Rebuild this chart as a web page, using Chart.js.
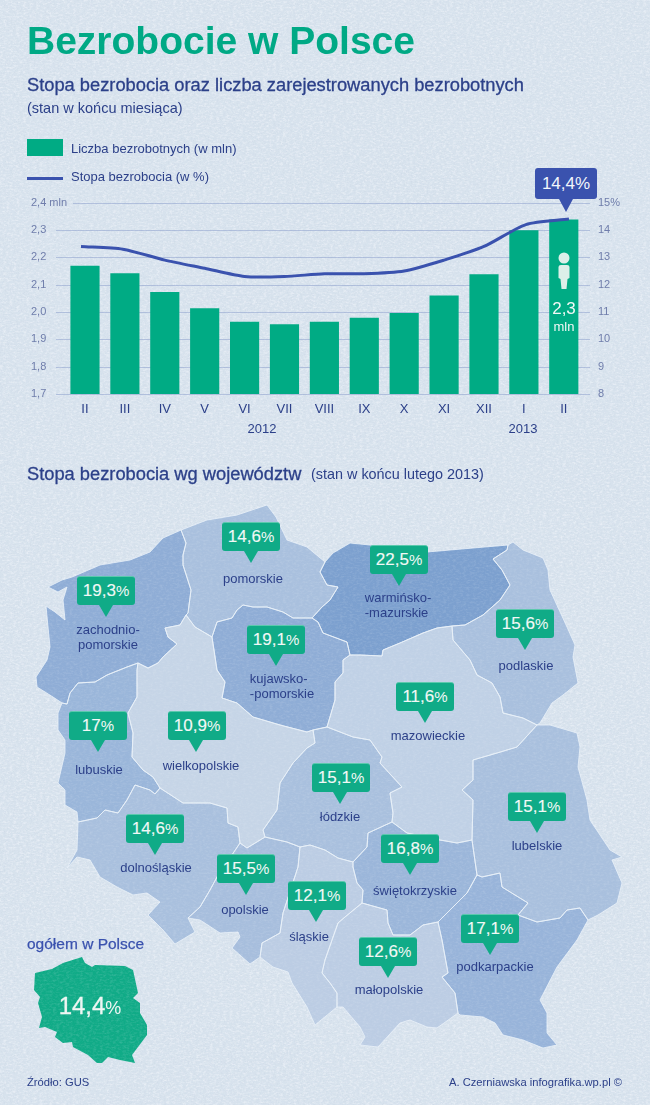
<!DOCTYPE html>
<html lang="pl">
<head>
<meta charset="utf-8">
<title>Bezrobocie w Polsce</title>
<script src="https://cdn.jsdelivr.net/npm/chart.js@4"></script>
<style>
  html, body { margin: 0; padding: 0; }
  body {
    position: relative; width: 650px; height: 1105px; overflow: hidden;
    background-color: #d7e2ed;
    font-family: "Liberation Sans", Arial, sans-serif; color: #2c4089;
  }
  .paper {
    position: absolute; left: 0; top: 0; width: 650px; height: 1105px; pointer-events: none;
    background-image: url("data:image/svg+xml,%3Csvg xmlns='http://www.w3.org/2000/svg' width='650' height='1105'%3E%3Cfilter id='a' x='0' y='0' width='100%25' height='100%25'%3E%3CfeTurbulence type='fractalNoise' baseFrequency='.3 .55' numOctaves='4' seed='4'/%3E%3CfeColorMatrix values='0 0 0 0 .95 0 0 0 0 .97 0 0 0 0 1 0 0 0 2.2 -.9'/%3E%3C/filter%3E%3Cfilter id='b' x='0' y='0' width='100%25' height='100%25'%3E%3CfeTurbulence type='fractalNoise' baseFrequency='.7' numOctaves='2' seed='9'/%3E%3CfeColorMatrix values='0 0 0 0 .55 0 0 0 0 .63 0 0 0 0 .74 0 0 0 1.6 -.85'/%3E%3C/filter%3E%3Crect width='650' height='1105' filter='url(%23a)'/%3E%3Crect width='650' height='1105' filter='url(%23b)'/%3E%3C/svg%3E");
  }
  #paperBack { opacity: .4; }
  #paperOver { opacity: .14; }
  canvas { position: absolute; left: 0; }
  #trend { top: 190px; }
  #map { top: 490px; }
  .t { position: absolute; white-space: nowrap; line-height: 1; }
  .mid { transform: translate(-50%, -50%); text-align: center; }
  .bubble {
    position: absolute; width: 58px; height: 29px; box-sizing: border-box;
    background: #10ab87; border-radius: 3px; border-top: 1px solid #5cc9ad;
    color: #f2f8f6; font-size: 17px; line-height: 28px; text-align: center;
    -webkit-text-stroke: .15px #f2f8f6;
  }
  .bubble small { font-size: 15px; -webkit-text-stroke: 0; }
  .bubble::after {
    content: ""; position: absolute; left: var(--tip); top: 28px; margin-left: -7px;
    border-left: 7px solid transparent; border-right: 7px solid transparent; border-top: 12px solid #10ab87;
  }
  .label { font-size: 13px; line-height: 15px; color: #2c4089; }
</style>
</head>
<body>

<div class="paper" id="paperBack"></div>
<canvas id="map" width="650" height="600"></canvas>
<div class="paper" id="paperOver"></div>
<canvas id="trend" width="650" height="240"></canvas>

<div class="t" style="left:27px;top:21px;font-size:39px;font-weight:bold;color:#00a985">Bezrobocie w Polsce</div>
<div class="t" style="left:27px;top:76px;font-size:18.3px;-webkit-text-stroke:.3px #2c4089">Stopa bezrobocia oraz liczba zarejestrowanych bezrobotnych</div>
<div class="t" style="left:27px;top:101px;font-size:14.5px">(stan w końcu miesiąca)</div>

<div style="position:absolute;left:27px;top:139px;width:36px;height:17px;background:#00ab84"></div>
<div class="t" style="left:71px;top:142px;font-size:13px">Liczba bezrobotnych (w mln)</div>
<div style="position:absolute;left:27px;top:177px;width:36px;height:3px;background:#3a52ae"></div>
<div class="t" style="left:71px;top:170px;font-size:13px">Stopa bezrobocia (w %)</div>

<div class="t mid" style="left:262px;top:428px;font-size:13px">2012</div>
<div class="t mid" style="left:523px;top:428px;font-size:13px">2013</div>

<div style="position:absolute;left:535px;top:168px;width:62px;height:31px;background:#3a52ae;border-radius:3px;color:#f2f6fb;font-size:17px;line-height:31px;text-align:center">14,4%</div>
<div style="position:absolute;left:559px;top:199px;border-left:7px solid transparent;border-right:7px solid transparent;border-top:13px solid #3a52ae"></div>

<svg style="position:absolute;left:556px;top:251px" width="16" height="40" viewBox="0 0 16 40">
  <circle cx="8" cy="7" r="5.5" fill="#dcefe9"/>
  <path d="M2.5 16 Q2.5 14 5 14 H11 Q13.5 14 13.5 16 V27 L11.5 28 L10.5 38 H5.5 L4.5 28 L2.5 27 Z" fill="#dcefe9"/>
</svg>
<div class="t mid" style="left:564px;top:308px;font-size:17px;color:#f2f8f6">2,3</div>
<div class="t mid" style="left:564px;top:326px;font-size:13px;color:#f2f8f6">mln</div>

<div class="t" style="left:27px;top:465px;font-size:18.3px;-webkit-text-stroke:.3px #2c4089">Stopa bezrobocia wg województw</div>
<div class="t" style="left:311px;top:467px;font-size:14.4px">(stan w końcu lutego 2013)</div>

<div id="regions"></div>

<div class="t" style="left:27px;top:936px;font-size:15.5px;color:#3a52ae;-webkit-text-stroke:.25px #3a52ae">ogółem w Polsce</div>
<div class="t mid" style="left:90px;top:1006px;font-size:24px;color:#eef6f3;-webkit-text-stroke:.3px #eef6f3">14,4<span style="font-size:18px;-webkit-text-stroke:0">%</span></div>

<div class="t" style="left:27px;top:1077px;font-size:11.2px">Źródło: GUS</div>
<div class="t" style="right:28px;top:1077px;font-size:11.2px">A. Czerniawska infografika.wp.pl ©</div>

<script>
// wykres: miesiace II 2012 - II 2013
const months = ['II', 'III', 'IV', 'V', 'VI', 'VII', 'VIII', 'IX', 'X', 'XI', 'XII', 'I', 'II'];
const unemployed = [2.168, 2.141, 2.072, 2.013, 1.963, 1.954, 1.963, 1.978, 1.995, 2.059, 2.137, 2.298, 2.337];
const rate = [13.4, 13.3, 12.9, 12.6, 12.3, 12.3, 12.4, 12.4, 12.5, 12.9, 13.4, 14.2, 14.4];
const rateAt = [-0.1, 0.95, 2, 3, 4, 5, 6, 7, 8, 9, 10, 11.05, 12.13];

// wojewodztwa
const regionNames = ['pomorskie', 'zachodnio-<br>pomorskie', 'warmińsko-<br>-mazurskie', 'podlaskie', 'kujawsko-<br>-pomorskie', 'lubuskie', 'wielkopolskie', 'mazowieckie', 'łódzkie', 'lubelskie', 'dolnośląskie', 'opolskie', 'śląskie', 'świętokrzyskie', 'małopolskie', 'podkarpackie'];
const regionRates = ['14,6', '19,3', '22,5', '15,6', '19,1', '17', '10,9', '11,6', '15,1', '15,1', '14,6', '15,5', '12,1', '16,8', '12,6', '17,1'];

// kontury, w pikselach strony
const pomorskie = [[181,530],[207,520],[237,515],[267,505],[276,517],[287,540],[307,547],[325,562],[320,572],[327,585],[338,587],[330,600],[322,607],[312,618],[293,618],[283,612],[267,607],[253,607],[243,605],[237,610],[232,618],[217,622],[212,637],[195,627],[186,615],[188,613],[191,590],[183,565],[183,555],[186,543]];
const zachodnio = [[181,530],[163,538],[150,552],[130,560],[100,565],[72,577],[62,580],[48,587],[58,592],[67,587],[63,600],[65,620],[55,612],[46,606],[48,627],[50,647],[47,660],[36,677],[37,687],[53,697],[62,703],[67,704],[70,693],[78,683],[95,682],[107,675],[127,667],[138,663],[148,668],[158,663],[163,657],[177,644],[168,637],[165,628],[180,625],[186,615],[188,613],[191,590],[183,565],[183,555],[186,543]];
const warminsko = [[325,562],[333,553],[350,543],[370,545],[427,552],[473,548],[508,545],[507,550],[493,559],[502,570],[510,585],[500,600],[483,615],[465,625],[452,626],[437,628],[423,633],[400,643],[383,650],[382,656],[360,655],[350,655],[347,642],[323,633],[318,622],[312,618],[322,607],[330,600],[338,587],[327,585],[320,572]];
const podlaskie = [[508,545],[513,542],[523,550],[543,558],[548,570],[550,590],[567,627],[575,645],[573,657],[578,683],[563,695],[552,703],[540,723],[537,725],[523,718],[503,713],[500,697],[492,683],[477,675],[470,660],[453,640],[452,626],[465,625],[483,615],[500,600],[510,585],[502,570],[493,559],[507,550]];
const kujawsko = [[212,637],[217,622],[232,618],[237,610],[243,605],[253,607],[267,607],[283,612],[293,618],[312,618],[318,622],[323,633],[347,642],[350,655],[343,660],[343,673],[335,682],[335,700],[327,727],[313,730],[307,732],[280,725],[253,717],[237,703],[222,698],[225,682],[217,670]];
const lubuskie = [[138,663],[137,670],[137,697],[128,713],[133,733],[132,757],[143,770],[153,777],[160,788],[155,794],[150,790],[135,785],[127,800],[118,813],[105,810],[97,818],[78,822],[77,812],[65,805],[65,790],[58,783],[65,753],[65,740],[58,730],[58,713],[62,703],[67,704],[70,693],[78,683],[95,682],[107,675],[127,667]];
const wielkopolskie = [[186,615],[195,627],[212,637],[217,670],[225,682],[222,698],[237,703],[253,717],[280,725],[307,732],[313,730],[315,743],[307,748],[293,763],[280,783],[277,810],[263,830],[265,837],[247,848],[240,843],[238,827],[228,823],[227,808],[210,803],[183,803],[160,788],[153,777],[143,770],[132,757],[133,733],[128,713],[137,697],[137,670],[138,663],[148,668],[158,663],[163,657],[177,644],[168,637],[165,628],[180,625]];
const mazowieckie = [[350,655],[360,655],[382,656],[383,650],[400,643],[423,633],[437,628],[452,626],[453,640],[470,660],[477,675],[492,683],[500,697],[503,713],[523,718],[537,725],[517,747],[497,753],[473,760],[473,780],[462,790],[473,800],[472,840],[457,843],[440,840],[407,833],[392,822],[393,813],[390,793],[402,787],[380,763],[382,757],[370,740],[353,737],[327,727],[335,700],[335,682],[343,673],[343,660]];
const lodzkie = [[313,730],[327,727],[353,737],[370,740],[382,757],[380,763],[402,787],[390,793],[393,813],[392,822],[368,833],[367,847],[353,862],[338,858],[325,850],[310,845],[300,847],[287,842],[265,837],[263,830],[277,810],[280,783],[293,763],[307,748],[315,743]];
const lubelskie = [[473,760],[497,753],[517,747],[537,725],[550,725],[577,733],[580,747],[578,767],[587,800],[590,820],[610,850],[622,857],[612,860],[622,883],[617,903],[598,915],[588,920],[580,908],[567,910],[560,918],[537,922],[518,915],[528,903],[502,887],[500,873],[482,877],[477,875],[472,840],[473,800],[462,790],[473,780]];
const dolnoslaskie = [[160,788],[155,794],[150,790],[135,785],[127,800],[118,813],[105,810],[97,818],[78,822],[77,850],[67,868],[77,857],[90,860],[100,877],[117,887],[133,895],[147,893],[160,902],[148,915],[163,930],[175,944],[195,932],[188,918],[200,907],[210,890],[217,877],[240,843],[238,827],[228,823],[227,808],[210,803],[183,803]];
const opolskie = [[240,843],[247,848],[265,837],[287,842],[300,847],[298,867],[283,913],[280,933],[262,943],[260,957],[250,964],[232,948],[240,937],[238,932],[220,933],[200,920],[188,918],[200,907],[210,890],[217,877]];
const slaskie = [[300,847],[310,845],[325,850],[338,858],[353,862],[353,867],[357,883],[363,890],[362,903],[345,917],[338,923],[325,960],[322,973],[330,983],[337,993],[337,1007],[315,1025],[307,1007],[292,983],[288,972],[273,967],[260,957],[262,943],[280,933],[283,913],[298,867]];
const swietokrzyskie = [[392,822],[407,833],[440,840],[457,843],[472,840],[477,875],[467,893],[443,917],[438,922],[423,925],[410,935],[393,935],[388,923],[387,910],[362,903],[363,890],[357,883],[353,867],[353,862],[367,847],[368,833]];
const malopolskie = [[362,903],[387,910],[388,923],[393,935],[410,935],[423,925],[438,922],[442,940],[448,973],[442,977],[455,993],[458,1013],[437,1028],[427,1027],[410,1020],[400,1023],[378,1047],[360,1045],[365,1037],[360,1027],[343,1007],[337,1007],[337,993],[330,983],[322,973],[325,960],[338,923],[345,917]];
const podkarpackie = [[438,922],[443,917],[467,893],[477,875],[482,877],[500,873],[502,887],[528,903],[518,915],[537,922],[560,918],[567,910],[580,908],[588,920],[577,940],[557,967],[540,1000],[547,1013],[547,1033],[557,1045],[543,1048],[523,1040],[503,1035],[495,1023],[483,1017],[460,1015],[458,1013],[455,993],[442,977],[448,973],[442,940]];
const polskaMini = [[35,973],[52,969],[63,963],[82,957],[85,963],[92,967],[95,965],[125,966],[133,970],[138,993],[133,998],[140,1003],[140,1013],[147,1025],[147,1035],[132,1055],[135,1063],[120,1060],[108,1057],[102,1063],[97,1063],[88,1055],[73,1047],[72,1042],[63,1043],[55,1037],[57,1032],[45,1027],[39,1028],[42,1017],[38,1003],[40,997],[34,990]];

const outlines = [pomorskie, zachodnio, warminsko, podlaskie, kujawsko, lubuskie, wielkopolskie, mazowieckie, lodzkie, lubelskie, dolnoslaskie, opolskie, slaskie, swietokrzyskie, malopolskie, podkarpackie];
const fills = ['#a9c0de', '#8fadd6', '#7ca0cf', '#a9c0de', '#8fadd6', '#9ab6da', '#c6d5e7', '#c0d1e6', '#a9c0de', '#a9c0de', '#a9c0de', '#a7bedd', '#bccde4', '#9bb6da', '#bccde4', '#98b4da'];

// [lewa krawedz, gora, czubek] dymka i srodek etykiety
const bubbleBoxes = [[222,522,29],[77,576,29],[370,545,29],[496,609,29],[247,625,29],[69,711,29],[168,711,28],[396,682,29],[312,763,28],[508,792,29],[126,814,29],[217,854,29],[288,881,28],[381,834,29],[359,937,29],[461,914,29]];
const labelSpots = [[253,578],[108,637],[398,605],[526,665],[282,686],[99,769],[201,765],[428,735],[340,816],[537,845],[156,867],[245,909],[309,936],[415,890],[389,989],[495,966]];

const regionsEl = document.getElementById('regions');
regionNames.forEach(function (name, i) {
  const b = bubbleBoxes[i];
  const s = labelSpots[i];
  const align = name.includes('<br>-') ? 'left' : 'center';
  regionsEl.insertAdjacentHTML('beforeend',
    `<div class="bubble" style="left:${b[0]}px;top:${b[1]}px;--tip:${b[2]}px">${regionRates[i]}<small>%</small></div>` +
    `<div class="t mid label" style="left:${s[0]}px;top:${s[1]}px;text-align:${align}">${name}</div>`);
});

const trendFont = { family: '"Liberation Sans", Arial, sans-serif', size: 11 };
const axisGrey = '#6f7dab';

// linie siatki zaczynaja sie za opisem osi, a gorna dopiero za "2,4 mln"
const countGrid = {
  id: 'countGrid',
  beforeDatasetsDraw: function (chart) {
    const ctx = chart.ctx;
    const axis = chart.scales.yCount;
    ctx.save();
    ctx.lineWidth = 1;
    ctx.strokeStyle = 'rgba(120,140,195,.42)';
    axis.ticks.forEach(function (t) {
      const y = Math.round(axis.getPixelForValue(t.value)) + 0.5;
      ctx.beginPath();
      ctx.moveTo(t.value > 2.35 ? 73 : 56, y);
      ctx.lineTo(chart.chartArea.right, y);
      ctx.stroke();
    });
    ctx.restore();
  },
};

new Chart(document.getElementById('trend'), {
  data: {
    datasets: [
      {
        type: 'line',
        data: rate.map((v, i) => ({ x: rateAt[i], y: v })),
        yAxisID: 'yRate',
        borderColor: '#3a52ae',
        borderWidth: 3,
        tension: 0.25,
        pointRadius: 0,
        order: 1,
      },
      {
        type: 'bar',
        data: unemployed.map((v, i) => ({ x: i, y: v })),
        yAxisID: 'yCount',
        backgroundColor: '#00ab84',
        barThickness: 28.5,
        order: 2,
      },
    ],
  },
  plugins: [countGrid],
  options: {
    responsive: false,
    animation: false,
    layout: { padding: { left: 31, top: 12.7, right: 0, bottom: 0 } },
    plugins: { legend: { display: false }, tooltip: { enabled: false } },
    scales: {
      x: {
        type: 'linear',
        offset: false,
        min: -1.353,
        max: 12.657,
        afterBuildTicks: function (axis) {
          axis.ticks = months.map((m, i) => ({ value: i }));
        },
        afterFit: function (axis) { axis.height = 36; },
        grid: { display: false, offset: false },
        border: { display: false },
        ticks: {
          autoSkip: false,
          maxRotation: 0,
          padding: 0,
          color: '#2c4089',
          font: { family: trendFont.family, size: 13 },
          callback: function (value) { return months[value]; },
        },
      },
      yCount: {
        position: 'left',
        min: 1.7,
        max: 2.4,
        afterBuildTicks: function (axis) {
          axis.ticks = [1.7, 1.8, 1.9, 2.0, 2.1, 2.2, 2.3, 2.4].map((v) => ({ value: v }));
        },
        afterFit: function (axis) { axis.width = 0; },
        grid: { display: false },
        border: { display: false },
        ticks: {
          mirror: true,
          padding: 0,
          color: axisGrey,
          font: trendFont,
          callback: function (value) {
            const text = value.toFixed(1).replace('.', ',');
            return value > 2.35 ? text + ' mln' : text;
          },
        },
      },
      yRate: {
        position: 'right',
        min: 8,
        max: 15,
        afterBuildTicks: function (axis) {
          axis.ticks = [8, 9, 10, 11, 12, 13, 14, 15].map((v) => ({ value: v }));
        },
        afterFit: function (axis) { axis.width = 60; },
        grid: { display: false },
        border: { display: false },
        ticks: {
          padding: 0,
          color: axisGrey,
          font: trendFont,
          callback: function (value) { return value === 15 ? '15%' : value; },
        },
      },
    },
  },
});

// wypelnia kontury, punkty biore z elementow wykresu czyli juz przeliczone przez skale
const outlineFill = {
  id: 'outlineFill',
  afterDatasetsDraw: function (chart) {
    const ctx = chart.ctx;
    chart.data.datasets.forEach(function (ds, i) {
      const pts = chart.getDatasetMeta(i).data;
      ctx.beginPath();
      pts.forEach(function (p, j) {
        if (j === 0) ctx.moveTo(p.x, p.y);
        else ctx.lineTo(p.x, p.y);
      });
      ctx.closePath();
      ctx.fillStyle = ds.backgroundColor;
      ctx.fill();
    });
    chart.data.datasets.forEach(function (ds, i) {
      if (ds.borderWidth === 0) return;
      const pts = chart.getDatasetMeta(i).data;
      ctx.beginPath();
      pts.forEach(function (p, j) {
        if (j === 0) ctx.moveTo(p.x, p.y);
        else ctx.lineTo(p.x, p.y);
      });
      ctx.closePath();
      ctx.lineJoin = 'round';
      ctx.lineWidth = ds.borderWidth;
      ctx.strokeStyle = ds.borderColor;
      ctx.stroke();
    });
  },
};

const mapSets = outlines.map(function (shape, i) {
  return {
    data: shape.map((p) => ({ x: p[0], y: p[1] })),
    backgroundColor: fills[i],
    borderColor: 'rgba(232,240,248,.85)',
    borderWidth: 1,
    pointRadius: 0,
    showLine: false,
  };
});
mapSets.push({
  data: polskaMini.map((p) => ({ x: p[0], y: p[1] })),
  backgroundColor: '#10ab87',
  borderColor: '#10ab87',
  borderWidth: 0,
  pointRadius: 0,
  showLine: false,
});

new Chart(document.getElementById('map'), {
  type: 'scatter',
  data: { datasets: mapSets },
  plugins: [outlineFill],
  options: {
    responsive: false,
    animation: false,
    plugins: { legend: { display: false }, tooltip: { enabled: false } },
    scales: {
      x: { type: 'linear', min: 0, max: 650, display: false },
      y: { type: 'linear', min: 490, max: 1090, reverse: true, display: false },
    },
  },
});
</script>
</body>
</html>
